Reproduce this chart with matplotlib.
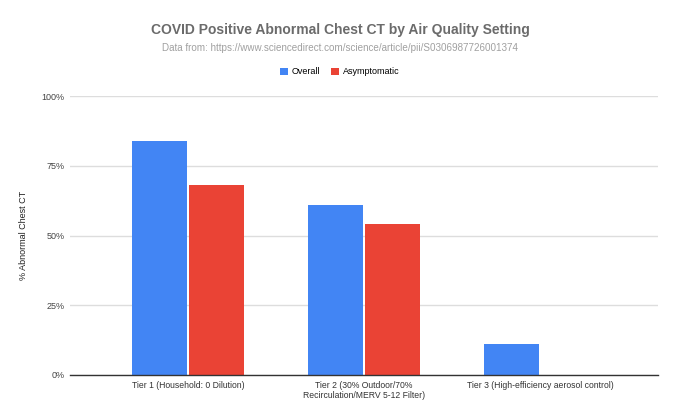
import matplotlib
matplotlib.use("Agg")
import matplotlib.pyplot as plt
import numpy as np
from matplotlib.ticker import FuncFormatter

categories = ["Tier 1 (Household: 0 Dilution)",
              "Tier 2 (30% Outdoor/70%\nRecirculation/MERV 5-12 Filter)",
              "Tier 3 (High-efficiency aerosol control)"]
overall = [0.84, 0.61, 0.11]
asymptomatic = [0.68, 0.54, 0.0]
series_names = ["Overall", "Asymptomatic"]
yticks = [0, 0.25, 0.5, 0.75, 1.0]

plt.rcParams['font.family'] = ['Liberation Sans', 'DejaVu Sans']

fig = plt.figure(figsize=(6.8, 4.2), dpi=100)
ax = fig.add_axes([70/680, 1-375/420, (658-70)/680, (375-96)/420])

x = np.arange(len(categories))
w = 0.313
blue = "#4285F4"
red = "#EA4335"
ax.bar(x - w/2 - 0.005, overall, w, color=blue, label=series_names[0], zorder=3)
ax.bar(x + w/2 + 0.005, asymptomatic, w, color=red, label=series_names[1], zorder=3)

ax.set_xlim(-0.67, 2.67)
ax.set_ylim(0, 1.0)
ax.set_yticks(yticks)
ax.yaxis.set_major_formatter(FuncFormatter(lambda v, p: f"{int(round(v*100))}%"))
ax.grid(axis='y', color='#dddddd', linewidth=1, zorder=0)
ax.set_xticks(x)
ax.set_xticklabels(categories, fontsize=6.2, color='#333333', linespacing=1.15)
ax.tick_params(axis='y', labelsize=6.5, colors='#444444', length=0, pad=4)
ax.tick_params(axis='x', length=0, pad=4)
for s in ['top', 'right', 'left']:
    ax.spines[s].set_visible(False)
ax.spines['bottom'].set_color('#333333')
ax.spines['bottom'].set_linewidth(1)
ax.spines['bottom'].set_zorder(4)
ax.set_ylabel("% Abnormal Chest CT", fontsize=6.5, color='#222222')
ax.yaxis.set_label_coords((28-70)/588, 0.5)

fig.text(0.5, 1-30/420, "COVID Positive Abnormal Chest CT by Air Quality Setting",
         ha='center', va='center', fontsize=10, fontweight='bold', color='#6b6b6b')
fig.text(0.5, 1-48/420, "Data from: https://www.sciencedirect.com/science/article/pii/S0306987726001374",
         ha='center', va='center', fontsize=7.1, color='#a0a0a0')

leg = fig.legend(loc='center', bbox_to_anchor=(0.5, 1-72/420), ncol=2, frameon=False,
                 fontsize=6.5, handlelength=0.8, handleheight=0.8, handletextpad=0.5,
                 columnspacing=1.2)

fig.savefig("out.png", dpi=100)
